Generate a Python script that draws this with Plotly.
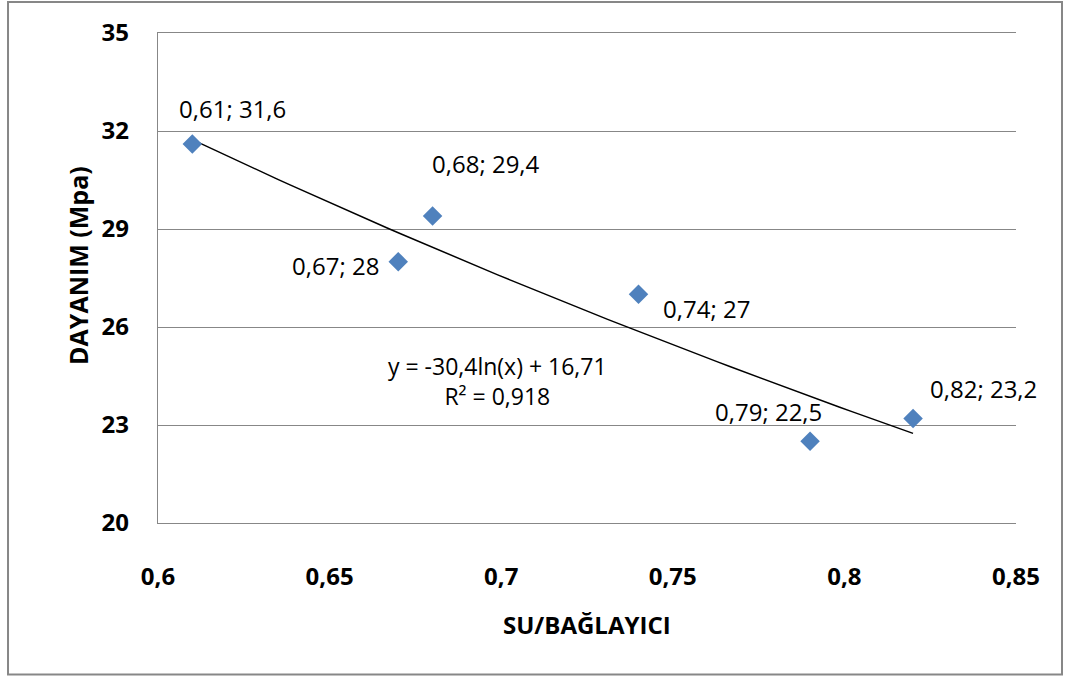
import numpy as np
import plotly.graph_objects as go

# data
su_baglayici = [0.61, 0.68, 0.67, 0.74, 0.79, 0.82]
dayanim = [31.6, 29.4, 28, 27, 22.5, 23.2]

# log trendline shown on the chart: y = a*ln(x) + b
trend_a = -30.4
trend_b = 16.71
trend_text = "y = -30,4ln(x) + 16,71<br>R² = 0,918"

x_ticks = [0.6, 0.65, 0.7, 0.75, 0.8, 0.85]
y_ticks = [20, 23, 26, 29, 32, 35]

# label offsets in px (dragged labels in the original)
label_shift = [(40, 36), (53, 52), (-63, -4), (68, -14), (-42, 30), (70, 30)]

font = "Open Sans"
grid = "#878787"

fig = go.Figure()

tx = np.linspace(min(su_baglayici), max(su_baglayici), 60)
fig.add_trace(go.Scatter(
    x = tx, y = trend_a * np.log(tx) + trend_b,
    mode = "lines", line = dict(color = "black", width = 1.5),
    hoverinfo = "skip"
))

fig.add_trace(go.Scatter(
    x = su_baglayici, y = dayanim, mode = "markers",
    marker = dict(symbol = "diamond", size = 15, color = "#4F81BD", line = dict(width = 0))
))

def fmt(v):
    return ("%g" % v).replace(".", ",")

for (xv, yv), (dx, dy) in zip(zip(su_baglayici, dayanim), label_shift):
    fig.add_annotation(
        x = xv, y = yv, text = fmt(xv) + "; " + fmt(yv), showarrow = False,
        xshift = dx, yshift = dy, font = dict(family = font, size = 24, color = "black")
    )

fig.add_annotation(
    x = 0.6988, y = 24.35, text = trend_text, showarrow = False,
    font = dict(family = font, size = 23, color = "black"), align = "center"
)

# axis titles
fig.add_annotation(
    xref = "paper", yref = "paper", x = 0.50, y = -0.208, text = "<b>SU/BAĞLAYICI</b>",
    showarrow = False, yanchor = "middle", font = dict(family = font, size = 24, color = "black")
)
fig.add_annotation(
    xref = "paper", yref = "paper", x = -0.093, y = 0.525, text = "<b>DAYANIM (Mpa)</b>",
    showarrow = False, textangle = -90, xanchor = "center",
    font = dict(family = font, size = 25, color = "black")
)

# outer chart border
fig.add_shape(
    type = "rect", xref = "paper", yref = "paper",
    x0 = -0.1748, x1 = 1.0536, y0 = -0.309, y1 = 1.0633,
    line = dict(color = grid, width = 2)
)

fig.update_xaxes(
    range = [0.6, 0.85], tickvals = x_ticks, ticktext = [fmt(v) for v in x_ticks],
    showgrid = False, zeroline = False,
    showline = True, mirror = True, linecolor = grid, linewidth = 1.3,
    ticks = "", ticklabelstandoff = 32,
    tickfont = dict(family = font, size = 24, color = "black", weight = "bold")
)
fig.update_yaxes(
    range = [20, 35], tickvals = y_ticks,
    showgrid = True, gridcolor = grid, gridwidth = 1.3, zeroline = False,
    showline = True, linecolor = grid, linewidth = 1.3,
    ticks = "", ticklabelstandoff = 23,
    tickfont = dict(family = font, size = 24, color = "black", weight = "bold")
)

fig.update_layout(
    width = 1065, height = 677,
    margin = dict(l = 158, r = 49, t = 33, b = 154),
    plot_bgcolor = "white", paper_bgcolor = "white",
    showlegend = False, separators = ",."
)

fig.write_html("out.html", config = {"displayModeBar": False},
               post_script = "document.body.style.margin = '0';")
